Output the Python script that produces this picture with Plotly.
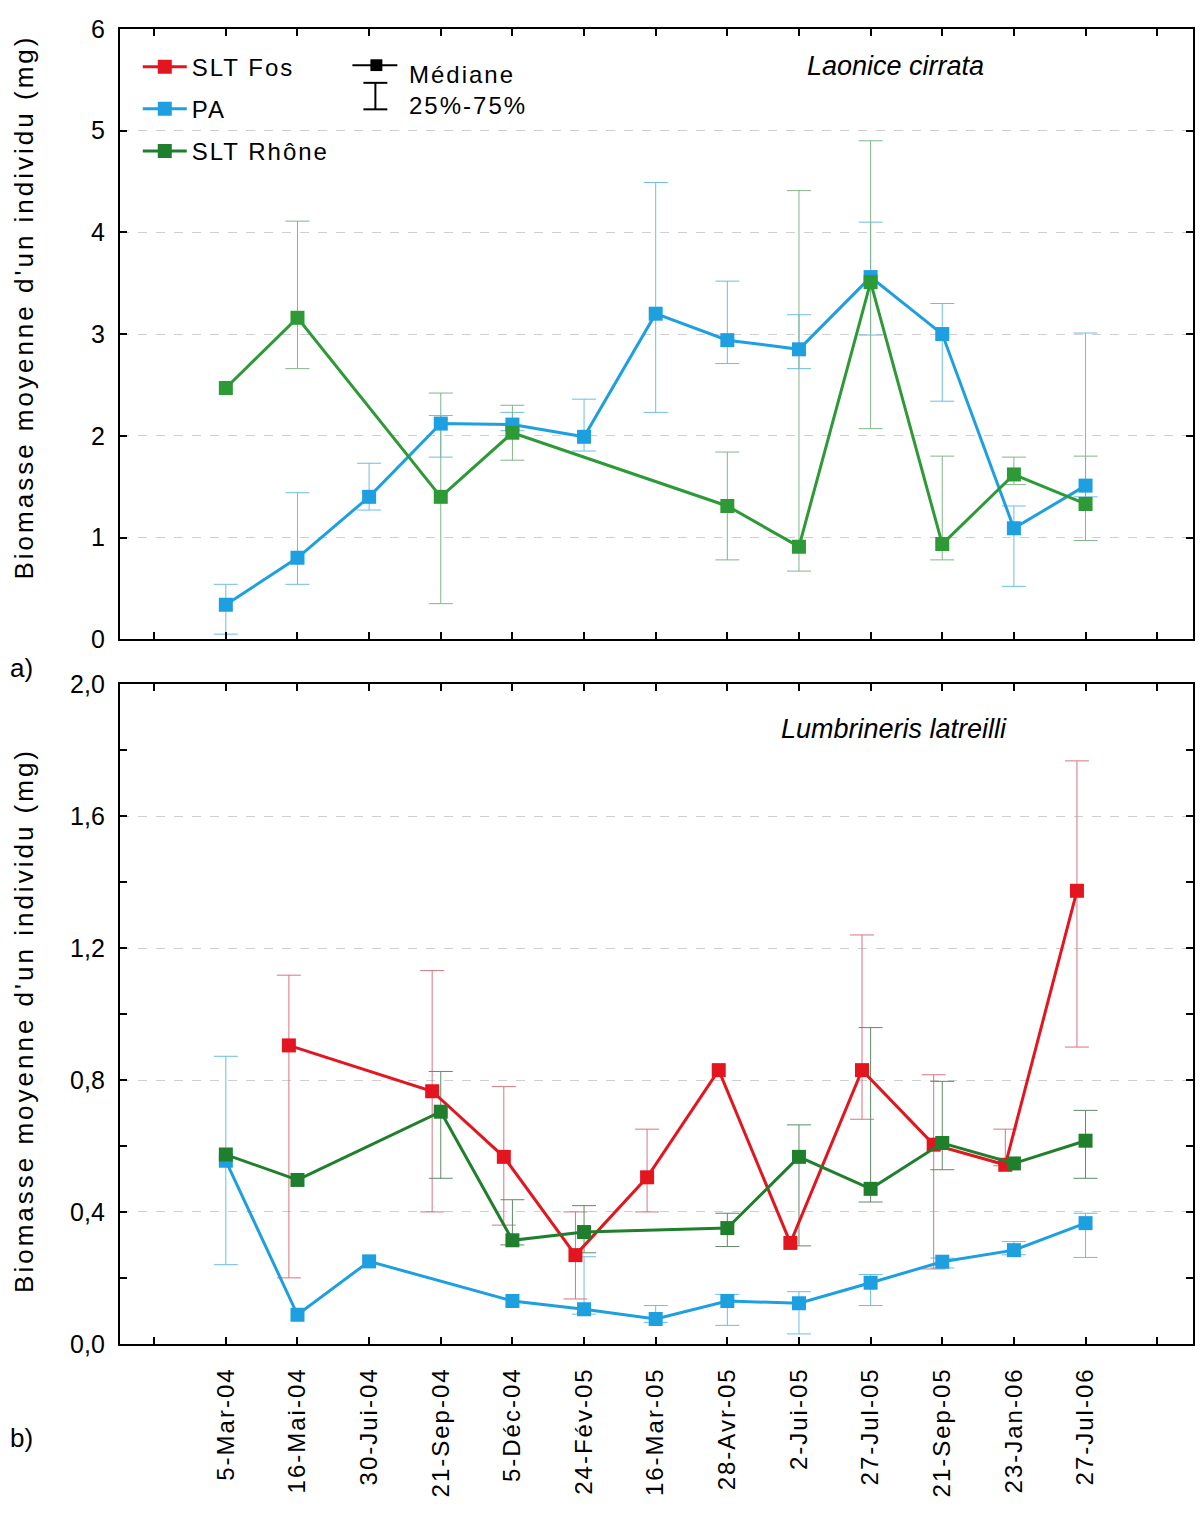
import plotly.graph_objects as go

# ---------------- data ----------------
categories = ["5-Mar-04", "16-Mai-04", "30-Jui-04", "21-Sep-04", "5-Déc-04", "24-Fév-05",
              "16-Mar-05", "28-Avr-05", "2-Jui-05", "27-Jul-05", "21-Sep-05", "23-Jan-06", "27-Jul-06"]

# panel a) Laonice cirrata
pa_a_med = [0.34, 0.80, 1.40, 2.12, 2.11, 1.99, 3.20, 2.94, 2.85, 3.56, 3.00, 1.09, 1.51]
pa_a_q25 = [0.05, 0.54, 1.27, 1.79, 2.05, 1.85, 2.23, 2.71, 2.66, 2.99, 2.34, 0.52, 1.40]
pa_a_q75 = [0.54, 1.44, 1.73, 2.20, 2.23, 2.36, 4.49, 3.52, 3.19, 4.10, 3.30, 1.31, 3.01]

rh_a_med = [2.47, 3.16, None, 1.40, 2.03, None, None, 1.31, 0.91, 3.51, 0.935, 1.62, 1.33]
rh_a_q25 = [None, 2.66, None, 0.35, 1.76, None, None, 0.78, 0.67, 2.07, 0.78, 1.52, 0.97]
rh_a_q75 = [None, 4.11, None, 2.42, 2.30, None, None, 1.84, 4.41, 4.90, 1.80, 1.79, 1.80]

# panel b) Lumbrineris latreilli
fos_b_med = [None, 0.905, None, 0.766, 0.567, 0.269, 0.505, 0.83, 0.306, 0.83, 0.604, 0.543, 1.374]
fos_b_q25 = [None, 0.20, None, 0.40, 0.36, 0.136, 0.40, None, None, 0.681, 0.227, 0.54, 0.90]
fos_b_q75 = [None, 1.118, None, 1.132, 0.78, 0.40, 0.651, None, None, 1.24, 0.816, 0.651, 1.768]

pa_b_med = [0.555, 0.088, 0.25, None, 0.13, 0.105, 0.075, 0.13, 0.123, 0.185, 0.249, 0.284, 0.366]
pa_b_q25 = [0.24, None, None, None, None, 0.09, 0.065, 0.056, 0.03, 0.116, 0.23, 0.27, 0.262]
pa_b_q75 = [0.872, None, None, None, None, 0.264, 0.116, 0.15, 0.158, 0.21, 0.26, 0.31, 0.396]

rh_b_med = [0.574, 0.497, None, 0.704, 0.314, 0.339, None, 0.351, 0.567, 0.47, 0.609, 0.547, 0.616]
rh_b_q25 = [None, None, None, 0.502, 0.30, 0.276, None, 0.295, 0.297, 0.43, 0.528, None, 0.502]
rh_b_q75 = [None, None, None, 0.826, 0.437, 0.419, None, 0.396, 0.664, 0.959, 0.796, None, 0.708]

y_a_ticks = [0, 1, 2, 3, 4, 5, 6]
y_a_labels = ["0", "1", "2", "3", "4", "5", "6"]
y_b_ticks = [0.0, 0.4, 0.8, 1.2, 1.6, 2.0]
y_b_labels = ["0,0", "0,4", "0,8", "1,2", "1,6", "2,0"]

y_title = "Biomasse moyenne d'un individu (mg)"
species_a = "Laonice cirrata"
species_b = "Lumbrineris latreilli"
series_names = ["SLT Fos", "PA", "SLT Rhône"]

# ---------------- style ----------------
PAGE_W, PAGE_H = 1203, 1513
BODY = 8  # default page margin around the figure
W, H = PAGE_W - 2 * BODY, PAGE_H - 2 * BODY
FONT = "Liberation Sans, Arial, sans-serif"
RED, RED_E = "#E3151E", "#D77580"
BLUE, BLUE_E = "#1E9FE0", "#6CBDE4"
GREEN_A, GREEN_A_E = "#2E9A37", "#83B58A"
GREEN_B, GREEN_B_E = "#1F7F2D", "#5E8B66"


def fx(p):
    return (p - BODY) / W


def fy(p):
    return 1 - (p - BODY) / H


def spaced(t, s):
    return f'<span style="letter-spacing:{s}px">{t}</span>'


fig = go.Figure()
line_traces = []


def add_series(med, q25, q75, color, ecolor, name, xa, ya, offset=0.0, legend=False, rank=None):
    ex, ey, ep, em = [], [], [], []
    for i, (m, lo, hi) in enumerate(zip(med, q25, q75)):
        if m is None or (lo is None and hi is None):
            continue
        ex.append(i + offset)
        ey.append(m)
        ep.append((hi - m) if hi is not None else 0)
        em.append((m - lo) if lo is not None else 0)
    fig.add_trace(go.Scatter(
        x=ex, y=ey, mode="markers", marker=dict(size=2, color="rgba(0,0,0,0)"),
        error_y=dict(type="data", symmetric=False, array=ep, arrayminus=em,
                     color=ecolor, thickness=1, width=12),
        showlegend=False, hoverinfo="skip", xaxis=xa, yaxis=ya))
    xs = [i + offset for i, v in enumerate(med) if v is not None]
    ys = [v for v in med if v is not None]
    line_traces.append(go.Scatter(
        x=xs, y=ys, mode="lines+markers", line=dict(color=color, width=3),
        marker=dict(symbol="square", size=14, color=color),
        name=spaced(name, 2), showlegend=legend, legendrank=rank if rank else 1000,
        legendgroup=name + xa, xaxis=xa, yaxis=ya))


# panel a
add_series(pa_a_med, pa_a_q25, pa_a_q75, BLUE, BLUE_E, series_names[1], "x", "y")
add_series(rh_a_med, rh_a_q25, rh_a_q75, GREEN_A, GREEN_A_E, series_names[2], "x", "y")
# panel b
add_series(pa_b_med, pa_b_q25, pa_b_q75, BLUE, BLUE_E, series_names[1], "x2", "y2", legend=True, rank=2)
add_series(fos_b_med, fos_b_q25, fos_b_q75, RED, RED_E, series_names[0], "x2", "y2", offset=-0.12, legend=True, rank=1)
add_series(rh_b_med, rh_b_q25, rh_b_q75, GREEN_B, GREEN_B_E, series_names[2], "x2", "y2", legend=True, rank=3)
for tr in line_traces:
    fig.add_trace(tr)

xdom = [fx(120), min(1.0, fx(1201))]
xrange = [-1.48, 13.5]
tickpos = list(range(-1, 14))

axis_common = dict(showline=True, linewidth=2, linecolor="black", mirror="ticks",
                   ticks="inside", ticklen=7, tickwidth=2, tickcolor="black",
                   zeroline=False, tickfont=dict(family=FONT, size=25, color="black"))

fig.update_layout(
    width=W, height=H, margin=dict(l=0, r=0, t=0, b=0), autosize=False,
    paper_bgcolor="white", plot_bgcolor="white",
    font=dict(family=FONT, color="black"),
    xaxis=dict(domain=xdom, range=xrange, anchor="y", tickvals=tickpos,
               showticklabels=False, showgrid=False, **axis_common),
    yaxis=dict(domain=[fy(637), fy(15)], range=[0, 6], anchor="x",
               tickvals=y_a_ticks, ticktext=y_a_labels, ticklabelstandoff=8,
               showgrid=True, griddash="dash", gridcolor="#cfcfcf", gridwidth=1, **axis_common),
    xaxis2=dict(domain=xdom, range=xrange, anchor="y2", tickvals=tickpos,
                ticktext=[""] + [spaced(c, 2) for c in categories] + [""],
                tickangle=-90, ticklabelstandoff=12, showgrid=False,
                **{**axis_common, "tickfont": dict(family=FONT, size=24, color="black")}),
    yaxis2=dict(domain=[fy(1355), fy(683)], range=[0, 2.0], anchor="x2",
                tickvals=y_b_ticks, ticktext=y_b_labels, ticklabelstandoff=8,
                minor=dict(dtick=0.2, tick0=0, ticks="inside", ticklen=7, tickwidth=2,
                           tickcolor="black", showgrid=False),
                showgrid=True, griddash="dash", gridcolor="#cfcfcf", gridwidth=1, **axis_common),
    legend=dict(x=fx(138), y=fy(31), xanchor="left", yanchor="top",
                font=dict(family=FONT, size=24, color="black"),
                bgcolor="rgba(0,0,0,0)", tracegroupgap=8, itemwidth=44),
)


def text_ann(text, x, y, size, xanchor="center", angle=0):
    return dict(text=text, x=fx(x), y=fy(y), xref="paper", yref="paper", showarrow=False,
                xanchor=xanchor, yanchor="middle", textangle=angle,
                font=dict(family=FONT, size=size, color="black"))


ann = [
    text_ann(spaced(y_title, 3), 24, 298, 26, angle=-90),
    text_ann(spaced(y_title, 3), 24, 1025, 26, angle=-90),
    text_ann(f"<i>{species_a}</i>", 897, 53, 27),
    text_ann(f"<i>{species_b}</i>", 895, 728, 27),
    text_ann("a)", 22, 666, 26),
    text_ann("b)", 22, 1451, 26),
    text_ann(spaced("Médiane", 2), 408, 62, 24, xanchor="left"),
    text_ann(spaced("25%-75%", 2), 408, 93, 24, xanchor="left"),
]
fig.update_layout(annotations=ann)

shp = [
    dict(type="line", x0=fx(353), x1=fx(398), y0=fy(52), y1=fy(52), line=dict(color="black", width=2)),
    dict(type="rect", x0=fx(371), x1=fx(383), y0=fy(46), y1=fy(58), fillcolor="black", line=dict(width=0)),
    dict(type="line", x0=fx(376), x1=fx(376), y0=fy(70), y1=fy(97), line=dict(color="black", width=2)),
    dict(type="line", x0=fx(364), x1=fx(388), y0=fy(70), y1=fy(70), line=dict(color="black", width=2)),
    dict(type="line", x0=fx(364), x1=fx(388), y0=fy(97), y1=fy(97), line=dict(color="black", width=2)),
]
for s in shp:
    s.update(xref="paper", yref="paper")
fig.update_layout(shapes=shp)

fig.write_html("out.html")
